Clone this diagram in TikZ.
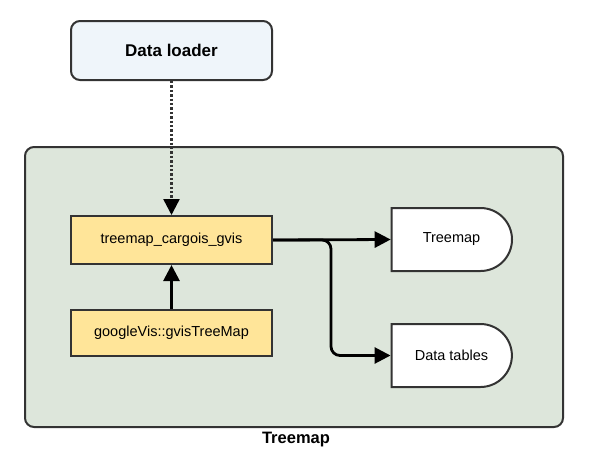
\documentclass[tikz,border=0pt]{standalone}
\usepackage{fontspec}
\setmainfont{Liberation Sans}
\usetikzlibrary{arrows.meta,shapes.misc}

\definecolor{loaderfill}{HTML}{EFF5FA}
\definecolor{groupfill}{HTML}{DDE6DB}
\definecolor{stepfill}{HTML}{FFE599}
\definecolor{edgegray}{HTML}{333333}

\tikzset{
    loaderbox/.style={draw=edgegray,fill=loaderfill,line width=2pt,rounded corners=9pt,
        minimum width=201pt,minimum height=59pt,font=\fontsize{17}{20}\selectfont\bfseries},
    groupbox/.style={draw=edgegray,fill=groupfill,line width=2pt,rounded corners=9pt,
        minimum width=538pt,minimum height=280pt},
    funcbox/.style={draw=edgegray,fill=stepfill,line width=2pt,
        minimum width=201pt,font=\fontsize{14.5}{17}\selectfont},
    outbox/.style={draw=edgegray,fill=white,line width=2pt,rounded rectangle,
        rounded rectangle west arc=none,minimum width=127pt,minimum height=63pt,
        font=\fontsize{14.5}{17}\selectfont},
    flow/.style={line width=2.8pt,-{Triangle[length=16pt,width=16pt,color=black]}},
}

\begin{document}
\begin{tikzpicture}[x=1pt,y=-1pt]
\useasboundingbox (0,0) rectangle (590,467);

% group
\node[groupbox] (group) at (294,287) {};
\node[font=\fontsize{16.5}{19}\selectfont\bfseries] (grouplabel) at (296,440) {Treemap};

% nodes
\node[loaderbox] (loader) at (171.5,50.5) {Data loader};
\node[funcbox,minimum height=48pt] (cargois) at (171.5,240) {treemap\_cargois\_gvis};
\node[funcbox,minimum height=46pt] (gvis)    at (171.5,333) {googleVis::gvisTreeMap};
\node[outbox] (treemap) at (451.5,239.5) {Treemap};
\node[outbox] (tables)  at (451.5,355.5) {Data tables};

% connectors
\draw[flow,draw=edgegray,line width=2.4pt,dash pattern=on 2.4pt off 2pt] (loader) -- (cargois);
\draw[flow] (gvis) -- (cargois);
\draw[flow] (cargois.east) -- (treemap.west);
\draw[flow,rounded corners=9pt] (cargois.east) -- ++(58,0) |- (tables.west);

\end{tikzpicture}
\end{document}
